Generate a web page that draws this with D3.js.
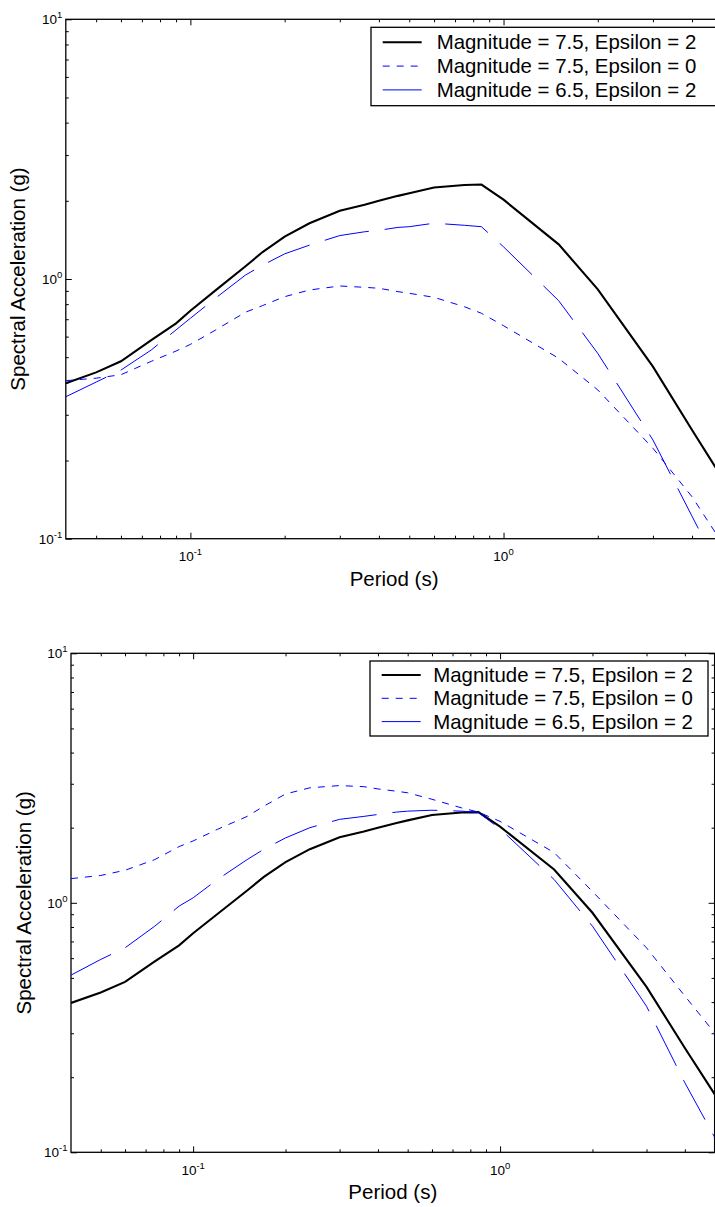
<!DOCTYPE html>
<html>
<head>
<meta charset="utf-8">
<script src="https://cdn.jsdelivr.net/npm/d3@7"></script>
<style>
  body { margin: 0; background: #fff; }
  text { font-family: "Liberation Sans", Arial, Helvetica, sans-serif; fill: #000; }
</style>
</head>
<body>
<script>
const w = 715
const h = 1207

// periods (s)
const periods = [0.04, 0.05, 0.06, 0.075, 0.09, 0.1, 0.12, 0.15, 0.17, 0.2, 0.24, 0.3, 0.36, 0.4, 0.46, 0.5, 0.6, 0.75, 0.85, 1.0, 1.5, 2.0, 3.0, 4.0, 5.0]

// spectral acceleration (g), top panel
const saM75e2 = [0.397, 0.437, 0.482, 0.582, 0.675, 0.755, 0.902, 1.12, 1.27, 1.456, 1.64, 1.83, 1.93, 2.0, 2.09, 2.14, 2.25, 2.30, 2.31, 2.02, 1.36, 0.912, 0.46, 0.262, 0.171]
const saM75e0 = [0.406, 0.415, 0.428, 0.482, 0.528, 0.56, 0.635, 0.745, 0.79, 0.855, 0.907, 0.940, 0.929, 0.921, 0.894, 0.881, 0.850, 0.782, 0.738, 0.661, 0.495, 0.374, 0.223, 0.145, 0.096]
const saM65e2 = [0.352, 0.401, 0.446, 0.533, 0.637, 0.706, 0.842, 1.036, 1.13, 1.25, 1.35, 1.47, 1.52, 1.54, 1.58, 1.59, 1.64, 1.61, 1.59, 1.33, 0.825, 0.517, 0.240, 0.122, 0.072]

// bottom panel (black curve is the same M7.5, eps 2 spectrum)
const saB_M75e0 = [1.25, 1.287, 1.35, 1.49, 1.68, 1.77, 1.97, 2.22, 2.44, 2.73, 2.89, 2.95, 2.92, 2.86, 2.80, 2.76, 2.60, 2.40, 2.31, 2.12, 1.59, 1.11, 0.66, 0.423, 0.301]
const saB_M65e2 = [0.513, 0.593, 0.660, 0.806, 0.97, 1.047, 1.24, 1.49, 1.64, 1.82, 2.0, 2.16, 2.22, 2.26, 2.31, 2.33, 2.35, 2.33, 2.30, 1.98, 1.24, 0.806, 0.385, 0.19, 0.115]

const legendLabels = ["Magnitude = 7.5, Epsilon = 2", "Magnitude = 7.5, Epsilon = 0", "Magnitude = 6.5, Epsilon = 2"]
const xMajor = [0.1, 1]
const xMinor = [0.05, 0.06, 0.07, 0.08, 0.09, 0.2, 0.3, 0.4, 0.5, 0.6, 0.7, 0.8, 0.9, 2, 3, 4]
const yMajor = [0.1, 1, 10]
const yMinor = [0.2, 0.3, 0.4, 0.5, 0.6, 0.7, 0.8, 0.9, 2, 3, 4, 5, 6, 7, 8, 9]
const expLabel = {0.1: "-1", 1: "0", 10: "1"}

const styles = [
  {color: "#000", width: 2.1, dash: null},
  {color: "#0000ff", width: 1, dash: "7,7"},
  {color: "#0000ff", width: 1, dash: "45,16"}
]

let svg = d3.select("body").append("svg").attr("width", w).attr("height", h)

function drawPanel(p, series, id) {
  let x = d3.scaleLog().domain([0.04, 5]).range([p.left, p.right])
  let y = d3.scaleLog().domain([0.1, 10]).range([p.bottom, p.top])
  let g = svg.append("g")

  g.append("clipPath").attr("id", "clip" + id)
    .append("rect")
    .attr("x", p.left).attr("y", p.top)
    .attr("width", p.right - p.left).attr("height", p.bottom - p.top)

  // ticks, pointing inwards on all four sides
  let axes = [
    [d3.axisBottom(x), "translate(0," + p.bottom + ")", xMajor, xMinor],
    [d3.axisTop(x), "translate(0," + p.top + ")", xMajor, xMinor],
    [d3.axisLeft(y), "translate(" + p.left + ",0)", yMajor, yMinor],
    [d3.axisRight(y), "translate(" + p.right + ",0)", yMajor, yMinor]
  ]
  axes.forEach(a => {
    g.append("g").attr("transform", a[1])
      .call(a[0].tickValues(a[2]).tickSizeInner(-6).tickSizeOuter(0).tickFormat(""))
    g.append("g").attr("transform", a[1])
      .call(a[0].tickValues(a[3]).tickSizeInner(-3).tickSizeOuter(0).tickFormat(""))
  })
  g.selectAll(".domain").remove()
  g.selectAll(".tick line").attr("stroke", "#000").attr("stroke-width", 1)

  // frame
  g.append("rect")
    .attr("x", p.left).attr("y", p.top)
    .attr("width", p.right - p.left).attr("height", p.bottom - p.top)
    .attr("fill", "none").attr("stroke", "#000").attr("stroke-width", 1.3)

  // tick labels with superscript exponents
  xMajor.forEach(v => {
    let t = g.append("text")
      .attr("x", x(v)).attr("y", p.bottom + 22.5)
      .attr("text-anchor", "middle").style("font-size", "13.5px")
    t.append("tspan").text("10")
    t.append("tspan").attr("dy", -6).style("font-size", "9.5px").text(expLabel[v])
  })
  yMajor.forEach(v => {
    let t = g.append("text")
      .attr("x", p.left - 3.5).attr("y", y(v) + 4.8)
      .attr("text-anchor", "end").style("font-size", "13.5px")
    t.append("tspan").text("10")
    t.append("tspan").attr("dy", -6).style("font-size", "9.5px").text(expLabel[v])
  })

  g.append("text")
    .attr("x", (p.left + p.right) / 2).attr("y", p.bottom + 47)
    .attr("text-anchor", "middle").style("font-size", "20.5px")
    .text("Period (s)")
  g.append("text")
    .attr("transform", "translate(" + p.yTitleX + "," + (p.top + p.bottom) / 2 + ") rotate(-90)")
    .attr("text-anchor", "middle").style("font-size", "20.5px")
    .text("Spectral Acceleration (g)")

  let line = d3.line()
    .x((d, i) => x(periods[i]))
    .y(d => y(d))

  series.forEach((s, k) => {
    g.append("path")
      .datum(s)
      .attr("clip-path", "url(#clip" + id + ")")
      .attr("d", line)
      .attr("fill", "none")
      .attr("stroke", styles[k].color)
      .attr("stroke-width", styles[k].width)
      .attr("stroke-dasharray", styles[k].dash)
  })

  // legend
  let L = p.legend
  g.append("rect")
    .attr("x", L.x).attr("y", L.y).attr("width", L.w).attr("height", L.h)
    .attr("fill", "#fff").attr("stroke", "#000").attr("stroke-width", 1.3)
  legendLabels.forEach((lab, k) => {
    let ly = L.row0 + k * L.step
    g.append("line")
      .attr("x1", L.lineX).attr("x2", L.lineX + 39)
      .attr("y1", ly).attr("y2", ly)
      .attr("stroke", styles[k].color)
      .attr("stroke-width", styles[k].width)
      .attr("stroke-dasharray", styles[k].dash)
    g.append("text")
      .attr("x", L.textX).attr("y", ly + 7)
      .style("font-size", "20.4px")
      .text(lab)
  })
}

drawPanel({left: 65.8, right: 722.4, top: 19.3, bottom: 538.7, yTitleX: 25,
  legend: {x: 371, y: 27.3, w: 350, h: 78.4, row0: 42.3, step: 23.8, lineX: 382.7, textX: 436.7}},
  [saM75e2, saM75e0, saM65e2], "a")

drawPanel({left: 71, right: 714.6, top: 653.3, bottom: 1152.3, yTitleX: 31,
  legend: {x: 370, y: 661, w: 338, h: 75, row0: 675, step: 23.3, lineX: 381.7, textX: 433.3}},
  [saM75e2, saB_M75e0, saB_M65e2], "b")
</script>
</body>
</html>
